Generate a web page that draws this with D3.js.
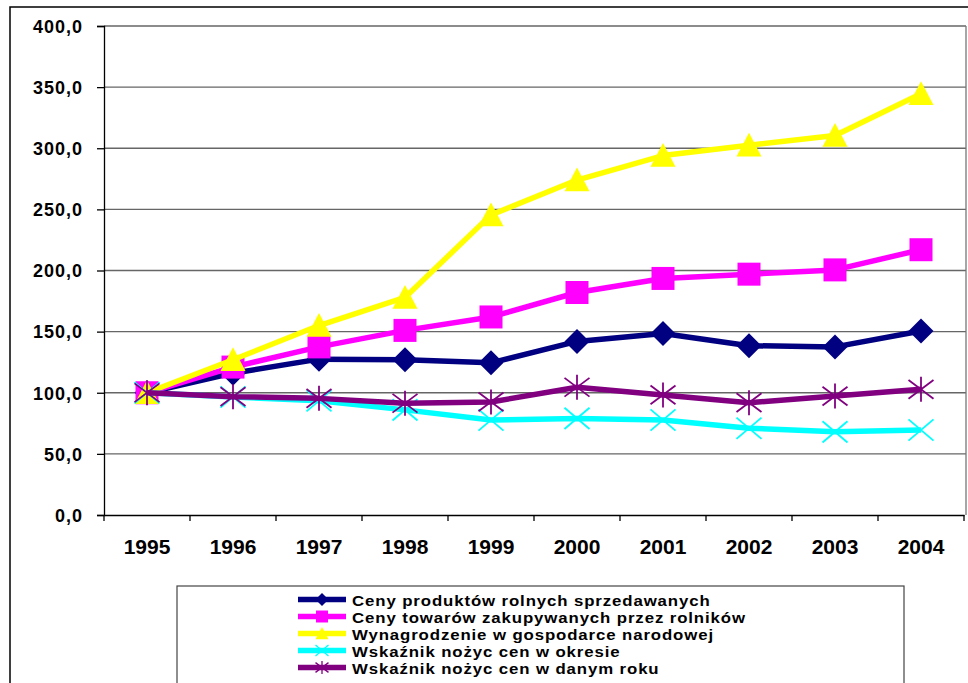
<!DOCTYPE html>
<html>
<head>
<meta charset="utf-8">
<script src="https://cdn.jsdelivr.net/npm/d3@7"></script>
<style>
  body { margin: 0; background: #fff; }
  svg { display: block; font-family: "Liberation Sans", Arial, sans-serif; }
  .tick text { font-weight: bold; fill: #000; }
</style>
</head>
<body>
<div id="chart"></div>
<script>
var years = ["1995", "1996", "1997", "1998", "1999", "2000", "2001", "2002", "2003", "2004"];
var yTicks = [0, 50, 100, 150, 200, 250, 300, 350, 400];

var cenyProduktow = [100, 116, 127.5, 127, 124.5, 142, 148.5, 138.5, 137.5, 150.5];
var cenyTowarow = [100, 121, 137.5, 151, 162, 182, 193.5, 197, 200.5, 217];
var wynagrodzenie = [100, 127, 155, 178, 245.5, 274, 294, 302.5, 310.5, 344.5];
var nozyceOkres = [100, 96.5, 93.5, 86, 77.7, 79, 77.7, 71, 68, 69.5];
var nozyceRok = [100, 96.8, 95.4, 91.4, 92.5, 104.5, 98.2, 91.9, 97.3, 102.8];

var seriesNames = [
  "Ceny produktów rolnych sprzedawanych",
  "Ceny towarów zakupywanych przez rolników",
  "Wynagrodzenie w gospodarce narodowej",
  "Wskaźnik nożyc cen w okresie",
  "Wskaźnik nożyc cen w danym roku"
];

var series = [
  { name: seriesNames[0], values: cenyProduktow, color: "#000080", marker: "diamond" },
  { name: seriesNames[1], values: cenyTowarow, color: "#ff00ff", marker: "square" },
  { name: seriesNames[2], values: wynagrodzenie, color: "#ffff00", marker: "triangle" },
  { name: seriesNames[3], values: nozyceOkres, color: "#00ffff", marker: "x" },
  { name: seriesNames[4], values: nozyceRok, color: "#800080", marker: "star" }
];

var svgWidth = 968;
var svgHeight = 683;
var margin = { top: 26, left: 104 };
var width = 860;
var height = 489;

var svg = d3.select("#chart")
  .append("svg")
  .attr("width", svgWidth)
  .attr("height", svgHeight);

// outer chart frame (runs off the picture on the right and bottom)
svg.append("rect")
  .attr("x", 10)
  .attr("y", 7)
  .attr("width", 1000)
  .attr("height", 720)
  .attr("fill", "none")
  .attr("stroke", "#000")
  .attr("stroke-width", 1.5);

var chartGroup = svg.append("g")
  .attr("transform", `translate(${margin.left}, ${margin.top})`);

var xScale = d3.scaleBand()
  .domain(years)
  .range([0, width])
  .padding(0);

var yScale = d3.scaleLinear()
  .domain([0, 400])
  .range([height, 0]);

function xc(i) {
  return xScale(years[i]) + xScale.bandwidth() / 2;
}

// gridlines
chartGroup.append("g")
  .selectAll("line")
  .data(yTicks.slice(1))
  .enter()
  .append("line")
  .attr("x1", 0)
  .attr("x2", width + 2)
  .attr("y1", d => yScale(d))
  .attr("y2", d => yScale(d))
  .attr("stroke", "#666")
  .attr("stroke-width", 1.3);

// right border of plot area
chartGroup.append("line")
  .attr("x1", width + 2)
  .attr("x2", width + 2)
  .attr("y1", 0)
  .attr("y2", height)
  .attr("stroke", "#777")
  .attr("stroke-width", 1.3);

// y axis
var leftAxis = d3.axisLeft(yScale)
  .tickValues(yTicks)
  .tickSize(7)
  .tickPadding(14)
  .tickFormat(d => d3.format(".1f")(d).replace(".", ","));

var yAxisG = chartGroup.append("g").call(leftAxis);
yAxisG.select(".domain").attr("stroke", "#000").attr("stroke-width", 1.3);
yAxisG.selectAll(".tick line").attr("stroke", "#000").attr("stroke-width", 1.3);
yAxisG.selectAll(".tick text")
  .attr("font-size", 18)
  .attr("font-family", "Liberation Sans, Arial, sans-serif")
  .style("letter-spacing", "1px")
  .attr("dy", "0.35em");

// x axis
var bottomAxis = d3.axisBottom(xScale)
  .tickSize(0)
  .tickPadding(24);

var xAxisG = chartGroup.append("g")
  .attr("transform", `translate(0, ${height})`)
  .call(bottomAxis);
xAxisG.select(".domain").attr("stroke", "#000").attr("stroke-width", 1.3);
xAxisG.selectAll(".tick text")
  .attr("font-size", 21)
  .attr("font-family", "Liberation Sans, Arial, sans-serif");

// tick marks between categories
xAxisG.selectAll(".bound")
  .data(years.concat(["end"]))
  .enter()
  .append("line")
  .attr("class", "bound")
  .attr("x1", (d, i) => i * xScale.bandwidth())
  .attr("x2", (d, i) => i * xScale.bandwidth())
  .attr("y1", 0)
  .attr("y2", 6)
  .attr("stroke", "#000")
  .attr("stroke-width", 1.3);

function drawMarker(g, type, color, s) {
  var h = s / 2;
  if (type === "diamond") {
    g.append("path")
      .attr("d", `M0,${-h}L${h},0L0,${h}L${-h},0Z`)
      .attr("fill", color);
  } else if (type === "square") {
    g.append("rect")
      .attr("x", -h * 0.92).attr("y", -h * 0.92)
      .attr("width", s * 0.92).attr("height", s * 0.92)
      .attr("fill", color);
  } else if (type === "triangle") {
    g.append("path")
      .attr("d", `M0,${-h}L${h},${h * 0.9}L${-h},${h * 0.9}Z`)
      .attr("fill", color);
  } else if (type === "x") {
    g.append("path")
      .attr("d", `M${-h},${-h * 0.85}L${h},${h * 0.85}M${h},${-h * 0.85}L${-h},${h * 0.85}`)
      .attr("stroke", color)
      .attr("stroke-width", Math.max(1.3, s / 14))
      .attr("fill", "none");
  } else if (type === "star") {
    g.append("path")
      .attr("d", `M${-h},${-h * 0.75}L${h},${h * 0.75}M${h},${-h * 0.75}L${-h},${h * 0.75}M0,${-h}L0,${h}`)
      .attr("stroke", color)
      .attr("stroke-width", Math.max(1.3, s / 14))
      .attr("fill", "none");
  }
}

var line = d3.line()
  .x((d, i) => xc(i))
  .y(d => yScale(d));

series.forEach(function(s) {
  var g = chartGroup.append("g");
  g.append("path")
    .datum(s.values)
    .attr("d", line)
    .attr("fill", "none")
    .attr("stroke", s.color)
    .attr("stroke-width", 5.5)
    .attr("stroke-linejoin", "round");

  s.values.forEach(function(v, i) {
    var m = g.append("g")
      .attr("transform", `translate(${xc(i)}, ${yScale(v)})`);
    drawMarker(m, s.marker, s.color, 25);
  });
});

// legend
var legend = svg.append("g");
legend.append("rect")
  .attr("x", 177)
  .attr("y", 586)
  .attr("width", 727)
  .attr("height", 120)
  .attr("fill", "#fff")
  .attr("stroke", "#444")
  .attr("stroke-width", 1.2);

var legendItems = legend.selectAll(".item")
  .data(series)
  .enter()
  .append("g")
  .attr("class", "item")
  .attr("transform", (d, i) => `translate(0, ${605.5 + i * 17})`);

legendItems.append("line")
  .attr("x1", 298)
  .attr("x2", 346)
  .attr("y1", -6)
  .attr("y2", -6)
  .attr("stroke", d => d.color)
  .attr("stroke-width", 5.5);

legendItems.each(function(d) {
  var m = d3.select(this).append("g")
    .attr("transform", "translate(322, -6)");
  drawMarker(m, d.marker, d.color, 13);
});

// text is slightly stretched sideways, like the original's legend font
legendItems.append("text")
  .attr("transform", "translate(352, 0) scale(1.12, 1)")
  .attr("font-size", 15)
  .attr("font-weight", "bold")
  .style("letter-spacing", "0.8px")
  .attr("fill", "#000")
  .text(d => d.name);
</script>
</body>
</html>
